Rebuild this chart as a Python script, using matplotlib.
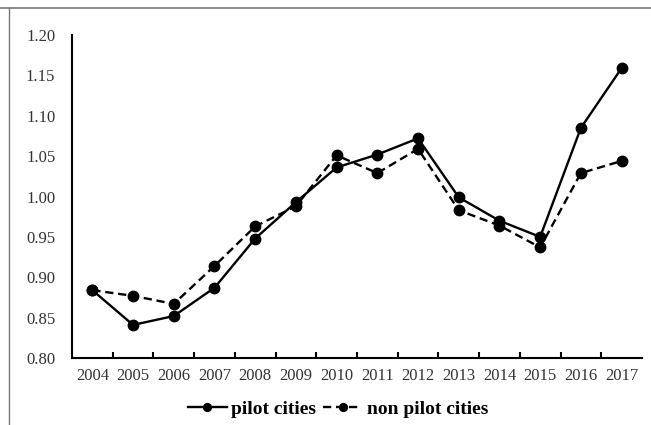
import numpy as np
import matplotlib.pyplot as plt
from matplotlib.lines import Line2D

years = [str(y) for y in range(2004, 2018)]
pilot = [0.884, 0.841, 0.852, 0.887, 0.948, 0.993, 1.036, 1.052, 1.072,
         0.999, 0.970, 0.950, 1.085, 1.159]
non_pilot = [0.884, 0.877, 0.867, 0.914, 0.963, 0.988, 1.051, 1.029, 1.059,
             0.983, 0.964, 0.937, 1.029, 1.044]
yticks = [0.80, 0.85, 0.90, 0.95, 1.00, 1.05, 1.10, 1.15, 1.20]

plt.rcParams['font.family'] = ['Liberation Serif', 'DejaVu Serif']

fig = plt.figure(figsize=(6.51, 4.25), dpi=100)
ax = fig.add_axes([0.1106, 0.1576, 0.8755, 0.76])

x = np.arange(len(years))
ax.plot(x, pilot, '-', color='black', lw=1.7, marker='o', ms=7.5,
        label='pilot cities')
ax.plot(x, non_pilot, '--', color='black', lw=1.7, marker='o', ms=7.5,
        label='non pilot cities', dashes=(3.5, 2))

ax.set_xlim(-0.5, len(years) - 0.5)
ax.set_ylim(0.80, 1.20)
ax.set_yticks(yticks)
ax.set_yticklabels([f'{v:.2f}' for v in yticks], fontsize=12, color='#333333')
ax.tick_params(axis='y', length=0, pad=12)

ax.set_xticks(x)
ax.set_xticklabels(years, fontsize=12, color='#333333')
ax.set_xticks(x[:-1] + 0.5, minor=True)
ax.tick_params(axis='x', which='major', length=0, pad=7)
ax.tick_params(axis='x', which='minor', direction='in', length=4, width=1.5)

for s in ['top', 'right']:
    ax.spines[s].set_visible(False)
for s in ['left', 'bottom']:
    ax.spines[s].set_linewidth(1.5)

fig.legend(loc='center', bbox_to_anchor=(338 / 651, 1 - 409 / 425), ncol=2,
           frameon=False, handlelength=2.0, columnspacing=0.35,
           handletextpad=0.25, markerscale=0.75,
           prop={'weight': 'bold', 'size': 14})

# frame lines around the picture (top and left)
fig.add_artist(Line2D([0, 1], [1 - 8 / 425] * 2, color='#777777', lw=1.2))
fig.add_artist(Line2D([9 / 651] * 2, [0, 1 - 8 / 425], color='#777777', lw=1.0))

fig.savefig('out.png', dpi=100)
